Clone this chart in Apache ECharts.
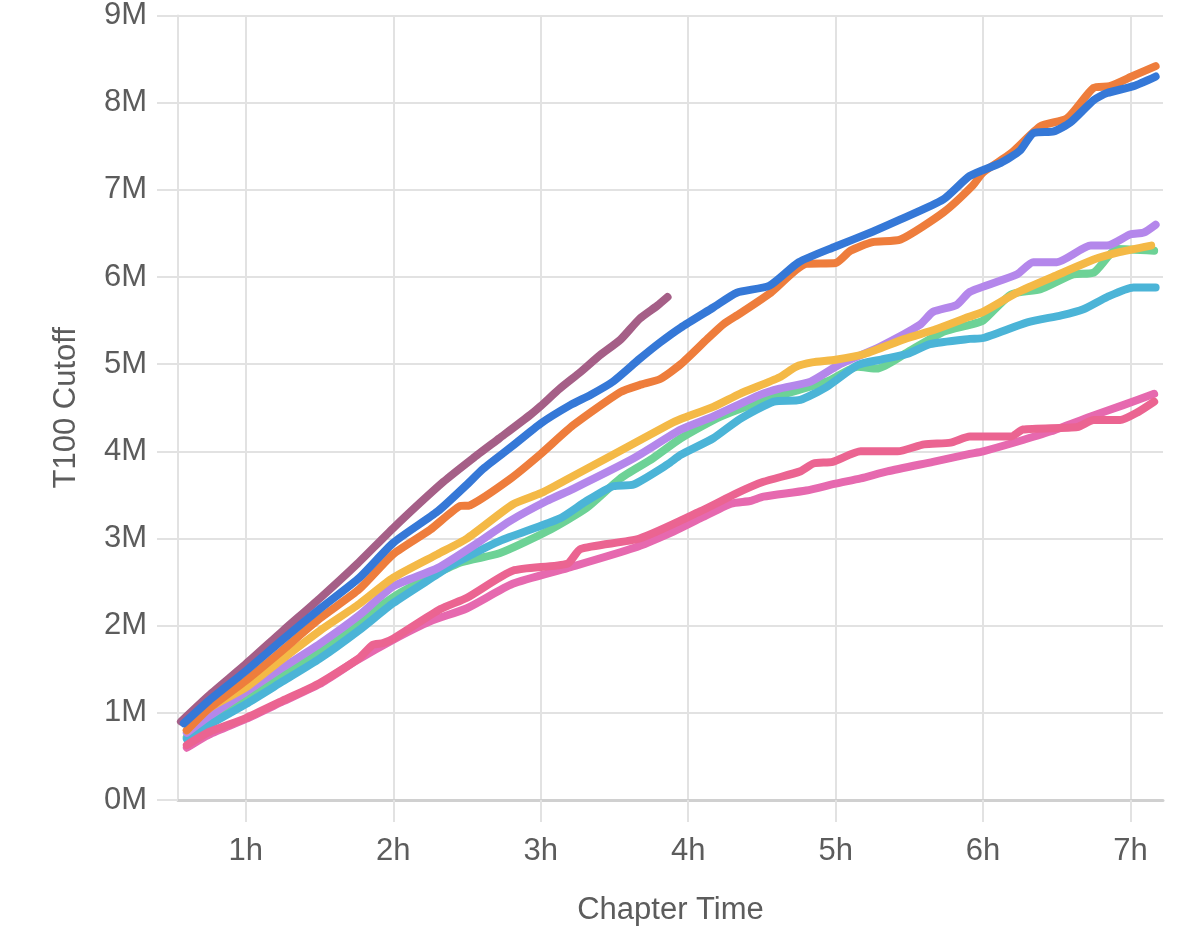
<!DOCTYPE html>
<html>
<head>
<meta charset="utf-8">
<script src="https://cdn.jsdelivr.net/npm/echarts@6/dist/echarts.min.js"></script>
<style>
    html, body { margin: 0; padding: 0; background: #fff; }
    #chart { width: 1200px; height: 949px; }
</style>
</head>
<body>
<div id="chart"></div>
<script>
// hour ticks and cutoff ticks (millions)
const hourTicks = [1, 2, 3, 4, 5, 6, 7]
const cutoffTicks = [0, 1, 2, 3, 4, 5, 6, 7, 8, 9]

// each series: [chapter hour, T100 cutoff in millions]
const mauveLine = [[0.56, 0.9], [0.75, 1.2], [1.0, 1.56], [1.25, 1.94], [1.5, 2.31], [1.75, 2.7], [2.0, 3.12], [2.34, 3.65], [2.54, 3.92], [2.72, 4.15], [2.93, 4.42], [3.0, 4.52], [3.13, 4.72], [3.27, 4.91], [3.4, 5.1], [3.54, 5.28], [3.67, 5.52], [3.79, 5.67], [3.86, 5.77]]
const orangeLine = [[0.6, 0.8], [0.75, 1.05], [1.0, 1.37], [1.25, 1.72], [1.5, 2.08], [1.77, 2.42], [2.0, 2.82], [2.25, 3.1], [2.45, 3.37], [2.52, 3.38], [2.79, 3.68], [3.0, 3.97], [3.22, 4.3], [3.54, 4.68], [3.67, 4.76], [3.81, 4.83], [3.95, 5.0], [4.13, 5.29], [4.24, 5.46], [4.35, 5.58], [4.56, 5.82], [4.8, 6.15], [5.0, 6.16], [5.1, 6.3], [5.25, 6.4], [5.44, 6.43], [5.73, 6.74], [5.93, 7.05], [6.0, 7.2], [6.19, 7.42], [6.39, 7.73], [6.57, 7.82], [6.75, 8.17], [6.86, 8.19], [7.02, 8.31], [7.17, 8.42]]
const blueLine = [[0.58, 0.88], [0.75, 1.14], [1.0, 1.48], [1.25, 1.84], [1.5, 2.19], [1.77, 2.55], [2.0, 2.95], [2.3, 3.31], [2.5, 3.62], [2.61, 3.8], [2.8, 4.05], [3.0, 4.32], [3.2, 4.53], [3.34, 4.65], [3.49, 4.8], [3.67, 5.06], [3.81, 5.25], [3.95, 5.42], [4.17, 5.65], [4.33, 5.82], [4.55, 5.9], [4.75, 6.17], [5.0, 6.35], [5.25, 6.52], [5.44, 6.66], [5.73, 6.89], [5.91, 7.16], [6.12, 7.31], [6.25, 7.45], [6.34, 7.65], [6.48, 7.67], [6.59, 7.77], [6.75, 8.03], [6.84, 8.11], [7.02, 8.19], [7.17, 8.3]]
const yellowLine = [[0.6, 0.8], [0.75, 1.05], [1.0, 1.29], [1.25, 1.62], [1.5, 1.94], [1.77, 2.25], [2.0, 2.55], [2.3, 2.82], [2.5, 3.0], [2.81, 3.39], [3.0, 3.52], [3.18, 3.68], [3.49, 3.96], [3.86, 4.3], [3.95, 4.37], [4.17, 4.51], [4.35, 4.66], [4.62, 4.85], [4.73, 4.97], [4.84, 5.02], [5.0, 5.05], [5.2, 5.12], [5.47, 5.29], [5.68, 5.4], [5.9, 5.54], [6.0, 5.6], [6.23, 5.82], [6.5, 6.02], [6.75, 6.2], [6.91, 6.28], [7.14, 6.36]]
const purpleLine = [[0.6, 0.77], [0.75, 0.96], [1.0, 1.24], [1.25, 1.52], [1.5, 1.79], [1.77, 2.12], [2.0, 2.45], [2.3, 2.66], [2.59, 2.97], [2.79, 3.2], [3.04, 3.43], [3.22, 3.57], [3.63, 3.92], [3.95, 4.25], [4.17, 4.4], [4.49, 4.65], [4.62, 4.72], [4.83, 4.8], [5.03, 5.0], [5.3, 5.2], [5.57, 5.45], [5.66, 5.6], [5.82, 5.68], [5.91, 5.83], [6.23, 6.03], [6.34, 6.17], [6.5, 6.17], [6.73, 6.36], [6.84, 6.36], [7.0, 6.49], [7.09, 6.51], [7.17, 6.6]]
const greenLine = [[0.6, 0.72], [0.75, 0.9], [1.0, 1.17], [1.25, 1.45], [1.5, 1.7], [1.77, 2.05], [2.05, 2.38], [2.45, 2.72], [2.72, 2.83], [3.04, 3.08], [3.31, 3.35], [3.54, 3.69], [3.76, 3.92], [3.95, 4.15], [4.22, 4.4], [4.6, 4.63], [4.94, 4.8], [5.15, 4.97], [5.28, 4.95], [5.49, 5.14], [5.73, 5.37], [5.91, 5.45], [6.0, 5.5], [6.19, 5.8], [6.39, 5.86], [6.61, 6.03], [6.75, 6.05], [6.91, 6.32], [7.16, 6.3]]
const cyanLine = [[0.6, 0.7], [0.75, 0.86], [1.0, 1.1], [1.25, 1.36], [1.5, 1.62], [1.77, 1.95], [2.0, 2.26], [2.3, 2.59], [2.38, 2.68], [2.72, 2.97], [3.13, 3.23], [3.31, 3.43], [3.49, 3.6], [3.63, 3.62], [3.86, 3.85], [3.95, 3.96], [4.17, 4.15], [4.35, 4.37], [4.58, 4.57], [4.76, 4.59], [4.94, 4.74], [5.15, 4.99], [5.3, 5.05], [5.49, 5.12], [5.64, 5.23], [5.91, 5.29], [6.0, 5.3], [6.3, 5.48], [6.53, 5.56], [6.68, 5.63], [6.84, 5.77], [7.02, 5.88], [7.17, 5.88]]
const coralLine = [[0.6, 0.63], [0.75, 0.78], [1.0, 0.94], [1.25, 1.14], [1.5, 1.34], [1.77, 1.63], [1.86, 1.78], [1.93, 1.8], [2.0, 1.85], [2.32, 2.19], [2.5, 2.32], [2.81, 2.63], [3.18, 2.71], [3.27, 2.88], [3.67, 3.0], [4.08, 3.31], [4.33, 3.52], [4.51, 3.65], [4.76, 3.77], [4.85, 3.86], [4.98, 3.88], [5.17, 4.0], [5.42, 4.0], [5.6, 4.08], [5.78, 4.1], [5.91, 4.17], [6.19, 4.17], [6.27, 4.25], [6.64, 4.28], [6.75, 4.36], [6.93, 4.36], [7.05, 4.45], [7.16, 4.57]]
const pinkLine = [[0.6, 0.6], [0.75, 0.75], [1.0, 0.93], [1.25, 1.13], [1.5, 1.33], [1.75, 1.6], [2.0, 1.84], [2.25, 2.05], [2.5, 2.2], [2.81, 2.48], [3.18, 2.66], [3.63, 2.89], [3.9, 3.08], [4.08, 3.23], [4.29, 3.4], [4.42, 3.43], [4.51, 3.48], [4.8, 3.55], [5.0, 3.63], [5.17, 3.69], [5.35, 3.77], [5.66, 3.88], [5.91, 3.97], [6.0, 4.0], [6.23, 4.11], [6.46, 4.23], [6.73, 4.4], [6.95, 4.53], [7.16, 4.66]]

const gridColor = '#e2e2e2'
const textColor = '#5c5c5c'

function makeLine(name, data, color) {
    return {
        name: name,
        type: 'line',
        data: data,
        showSymbol: false,
        symbol: 'none',
        smooth: 0.2,
        lineStyle: { color: color, width: 8, join: 'round', cap: 'round' },
        silent: true
    }
}

const chart = echarts.init(document.getElementById('chart'), null, { renderer: 'canvas' })
const option = {
    animation: false,
    backgroundColor: '#fff',
    textStyle: { fontFamily: 'Liberation Sans, Arial, sans-serif' },
    grid: { left: 178, right: 37, top: 12, bottom: 149, containLabel: false },
    xAxis: {
        type: 'value',
        min: 0.54,
        max: 7.22,
        name: 'Chapter Time',
        nameLocation: 'middle',
        nameGap: 95,
        nameTextStyle: { fontSize: 31, color: textColor },
        axisLine: { show: true, lineStyle: { color: '#d0d0d0', width: 3 } },
        axisTick: { show: true, length: 22, customValues: hourTicks, lineStyle: { color: gridColor, width: 2 } },
        axisLabel: { customValues: hourTicks, formatter: (v) => v + 'h', fontSize: 31, color: textColor, margin: 36 },
        splitLine: { show: true, lineStyle: { color: gridColor, width: 2 } }
    },
    yAxis: {
        type: 'value',
        min: cutoffTicks[0],
        max: cutoffTicks[cutoffTicks.length - 1],
        interval: 1,
        name: 'T100 Cutoff',
        nameLocation: 'middle',
        nameGap: 96,
        nameTextStyle: { fontSize: 31, color: textColor },
        axisLine: { show: true, lineStyle: { color: gridColor, width: 2 } },
        axisTick: { show: true, length: 21, lineStyle: { color: gridColor, width: 2 } },
        axisLabel: { formatter: (v) => v + 'M', fontSize: 31, color: textColor, margin: 31 },
        splitLine: { show: true, lineStyle: { color: gridColor, width: 2 } }
    },
    series: [
        makeLine('green', greenLine, '#6dd296'),
        makeLine('cyan', cyanLine, '#4bb4d7'),
        makeLine('purple', purpleLine, '#b487eb'),
        makeLine('yellow', yellowLine, '#f4b946'),
        makeLine('pink', pinkLine, '#e669af'),
        makeLine('coral', coralLine, '#eb6491'),
        makeLine('mauve', mauveLine, '#a55f87'),
        makeLine('orange', orangeLine, '#ee7d3c'),
        makeLine('blue', blueLine, '#3578d7')
    ]
}
chart.setOption(option)
</script>
</body>
</html>
